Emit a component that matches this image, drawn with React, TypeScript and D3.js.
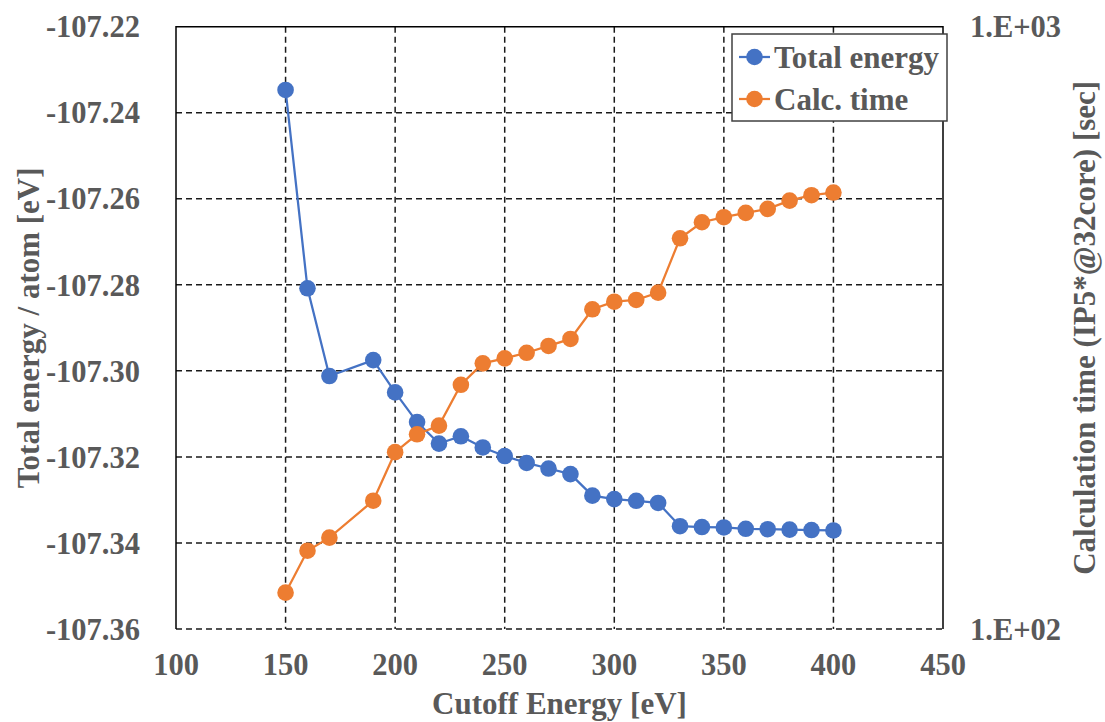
import React from "react";
import * as d3 from "d3";

const cutoffs = [150, 160, 170, 190, 200, 210, 220, 230, 240, 250, 260, 270, 280, 290, 300, 310, 320, 330, 340, 350, 360, 370, 380, 390, 400];
const totalEnergy = [-107.2347, -107.2808, -107.3012, -107.2975, -107.305, -107.3119, -107.3169, -107.3152, -107.3178, -107.3198, -107.3214, -107.3227, -107.324, -107.329, -107.3298, -107.3302, -107.3307, -107.3361, -107.3363, -107.3364, -107.3367, -107.3368, -107.3369, -107.337, -107.3371];
const calcTime = [114.9, 134.9, 141.8, 163.3, 196.6, 210.5, 217.6, 254.4, 276.1, 281.4, 287.5, 295.1, 303.1, 339.5, 349.5, 351.8, 361.8, 445.4, 473.5, 482.7, 490.7, 498.3, 514.4, 525.1, 530.4];
const xTicks = [100, 150, 200, 250, 300, 350, 400, 450];
const yTicks = [-107.36, -107.34, -107.32, -107.3, -107.28, -107.26, -107.24, -107.22];
const y2Ticks = [100, 1000];
const seriesNames = ["Total energy", "Calc. time"];
const xTitle = "Cutoff Energy [eV]";
const yTitle = "Total energy / atom [eV]";
const y2Title = "Calculation time (IP5*@32core) [sec]";

const BLUE = "#4472C4";
const ORANGE = "#ED7D31";
const GRAY = "#595959";
const FONT = "'Liberation Serif', 'Times New Roman', serif";

export default function App() {
  const W = 1105, H = 722;
  const L = 176, R = 943, T = 26.7, B = 629;
  const x = d3.scaleLinear().domain([100, 450]).range([L, R]);
  const y = d3.scaleLinear().domain([-107.36, -107.22]).range([B, T]);
  const y2 = d3.scaleLog().domain([100, 1000]).range([B, T]);

  const lineE = d3.line<number>().x((_, i) => x(cutoffs[i])).y((d) => y(d));
  const lineT = d3.line<number>().x((_, i) => x(cutoffs[i])).y((d) => y2(d));

  const fmtY = (v: number) => v.toFixed(2);
  const fmtY2 = (v: number) => "1.E+" + String(Math.round(Math.log10(v))).padStart(2, "0");

  const fsTick = 30.5;
  const fs = 31;
  const dash = "6,4";

  return (
    <svg width={W} height={H} style={{ position: "absolute", left: 0, top: 0, background: "#fff" }} fontFamily={FONT} fontWeight="bold">
      <rect x={0} y={0} width={W} height={H} fill="#fff" />
      {yTicks.slice(0, -1).map((t) => (
        <line key={"h" + t} x1={L} x2={R} y1={y(t)} y2={y(t)} stroke="#1a1a1a" strokeWidth={1.5} strokeDasharray={dash} />
      ))}
      {xTicks.slice(1, -1).map((t) => (
        <line key={"v" + t} x1={x(t)} x2={x(t)} y1={T} y2={B} stroke="#1a1a1a" strokeWidth={1.5} strokeDasharray={dash} />
      ))}
      <path d={`M${L},${B}V${T}H${R}V${B}`} fill="none" stroke="#000" strokeWidth={1.5} />

      <path d={lineE(totalEnergy) || ""} fill="none" stroke={BLUE} strokeWidth={2.25} />
      {totalEnergy.map((v, i) => (
        <circle key={"e" + i} cx={x(cutoffs[i])} cy={y(v)} r={8.3} fill={BLUE} />
      ))}
      <path d={lineT(calcTime) || ""} fill="none" stroke={ORANGE} strokeWidth={2.25} />
      {calcTime.map((v, i) => (
        <circle key={"t" + i} cx={x(cutoffs[i])} cy={y2(v)} r={8.3} fill={ORANGE} />
      ))}

      {yTicks.map((t) => (
        <text key={"yl" + t} x={140} y={y(t)} dy="0.35em" textAnchor="end" fontSize={fsTick} fill={GRAY}>
          {fmtY(t)}
        </text>
      ))}
      {y2Ticks.map((t) => (
        <text key={"yr" + t} x={970} y={y2(t)} dy="0.35em" textAnchor="start" fontSize={fsTick} fill={GRAY}>
          {fmtY2(t)}
        </text>
      ))}
      {xTicks.map((t) => (
        <text key={"xt" + t} x={x(t)} y={675} textAnchor="middle" fontSize={fsTick} fill={GRAY}>
          {t}
        </text>
      ))}
      <text x={(L + R) / 2} y={714} textAnchor="middle" fontSize={fs} fill={GRAY}>{xTitle}</text>
      <text transform={`translate(28,${(T + B) / 2}) rotate(-90)`} textAnchor="middle" dy="0.35em" fontSize={fs} fill={GRAY}>{yTitle}</text>
      <text transform={`translate(1084,${(T + B) / 2}) rotate(-90)`} textAnchor="middle" dy="0.35em" fontSize={fs} fill={GRAY}>{y2Title}</text>

      <g>
        <rect x={732} y={34} width={215} height={87} fill="#fff" stroke="#404040" strokeWidth={1.5} />
        {seriesNames.map((n, i) => {
          const cy = 57 + i * 42;
          const c = i === 0 ? BLUE : ORANGE;
          return (
            <g key={n}>
              <line x1={739} x2={770} y1={cy} y2={cy} stroke={c} strokeWidth={2.25} />
              <circle cx={754.5} cy={cy} r={8.3} fill={c} />
              <text x={774} y={cy} dy="0.35em" fontSize={fs} fill={GRAY}>{n}</text>
            </g>
          );
        })}
      </g>
    </svg>
  );
}
